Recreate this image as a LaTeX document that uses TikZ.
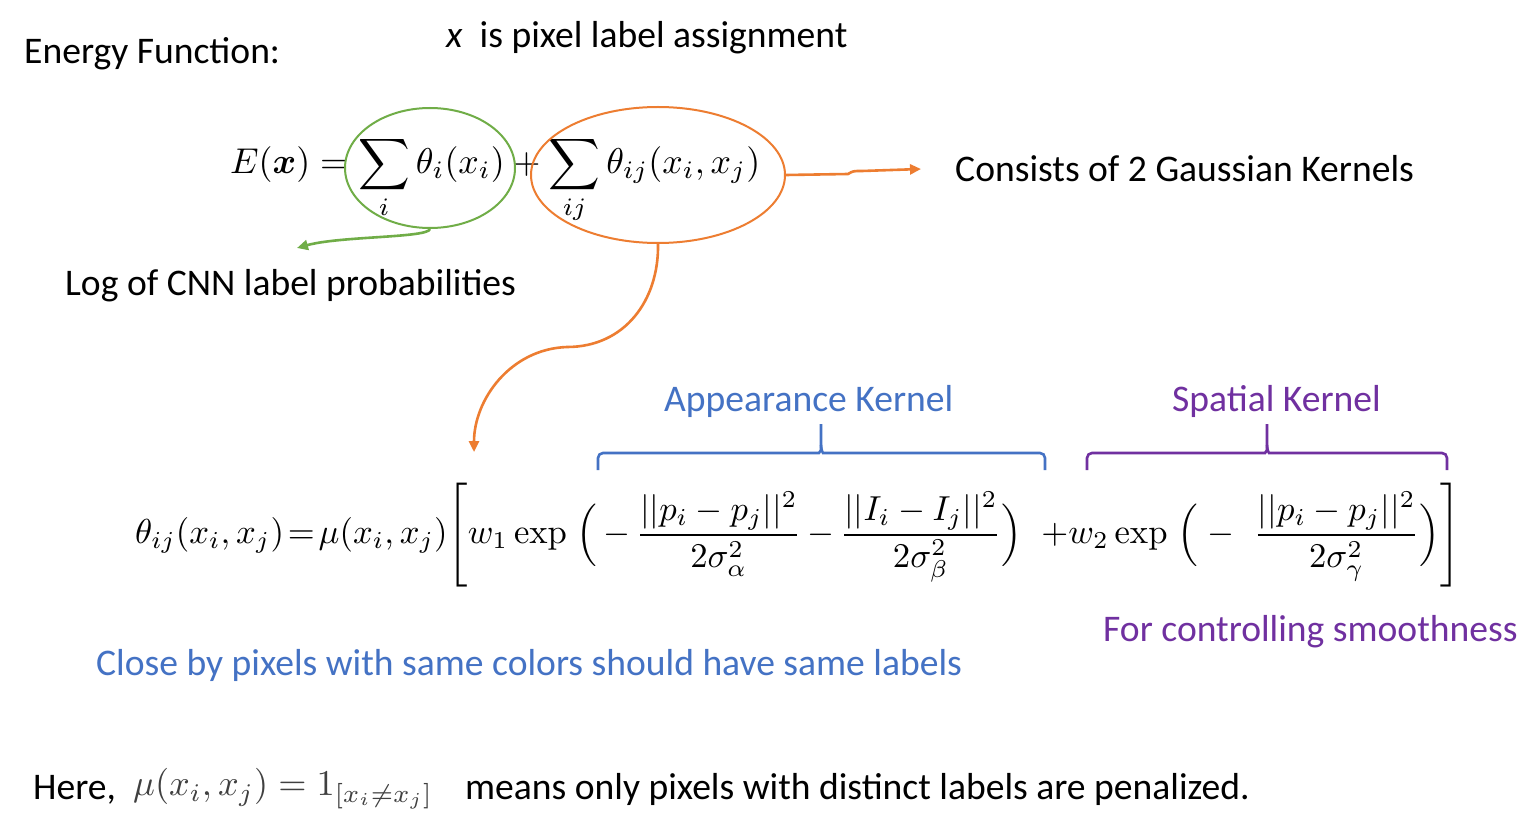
\documentclass[tikz,border=0pt]{standalone}
\usepackage{amsmath}
\usepackage[no-math]{fontspec}
\setmainfont{Carlito}
\usepackage{graphicx}
\usetikzlibrary{shapes.geometric,arrows.meta}
\definecolor{kgreen}{HTML}{70AD47}
\definecolor{korange}{HTML}{ED7D31}
\definecolor{kblue}{HTML}{4472C4}
\definecolor{kpurple}{HTML}{7030A0}
\begin{document}
\begin{tikzpicture}[x=1pt,y=-1pt,
  txt/.style={font=\fontsize{37.6}{44}\selectfont, anchor=base west, inner sep=0pt},
  eqn/.style={anchor=west, inner sep=0pt},
  ring/.style={ellipse, draw, line width=2pt, inner sep=0pt},
  link/.style={line width=2.6pt, -{Triangle[length=11pt,width=10pt]}},
  bracebar/.style={line width=2.6pt, rounded corners=5pt}]
  \useasboundingbox[fill=white] (0,0) rectangle (1538,834);

  % headings
  \node[txt] (title) at (24,64) {Energy Function:};
  \node[txt] (xdef) at (446,48) {\textit{x}\ \ is pixel label assignment};

  % energy function
  \node[eqn] (energy) at (230,180)
    {\resizebox{530pt}{!}{$\displaystyle E(\boldsymbol{x}) = \sum_i \theta_i(x_i) + \sum_{ij}\theta_{ij}(x_i,x_j)$}};
  \node[ring, kgreen, minimum width=170, minimum height=120] (unary) at (430,168) {};
  \node[ring, korange, minimum width=254, minimum height=136] (pair) at (658,175) {};

  \node[txt] (unarytxt) at (65,295) {Log of CNN label probabilities};
  \node[txt] (pairtxt) at (955,182) {Consists of 2 Gaussian Kernels};

  \coordinate (gend) at (297,248);
  \coordinate (oend) at (921,169);
  \coordinate (kend) at (474,452);
  \draw[link, kgreen] (unary.south) .. controls (428,238) and (340,236) .. (gend);
  \draw[link, korange] (pair.east) -- (848,174) .. controls (853,171) .. (862,171) -- (oend);
  \draw[link, korange] (pair.south) .. controls (659,300) and (625,347) .. (567,347)
    .. controls (510,349) and (474,400) .. (kend);

  % kernel labels and braces
  \node[txt, text=kblue] (apptxt) at (664,411) {Appearance Kernel};
  \node[txt, text=kpurple] (spatxt) at (1172,411) {Spatial Kernel};

  \draw[bracebar, kblue] (598,470) -- (598,453) -- (814,453)
    .. controls (819,453) and (821,450) .. (821,445) -- (821,424);
  \draw[bracebar, kblue] (1045,470) -- (1045,453) -- (828,453)
    .. controls (823,453) and (821,450) .. (821,445);
  \draw[bracebar, kpurple] (1087,470) -- (1087,453) -- (1260,453)
    .. controls (1265,453) and (1267,450) .. (1267,445) -- (1267,424);
  \draw[bracebar, kpurple] (1447,470) -- (1447,453) -- (1274,453)
    .. controls (1269,453) and (1267,450) .. (1267,445);

  % pairwise potential
  \node[eqn] (kernel) at (135,535)
    {\resizebox{1325pt}{!}{$\theta_{ij}(x_i,x_j)\!=\!\mu(x_i,x_j)\Biggl[w_1\exp\;\Bigl(\,{-}\,\dfrac{||p_i-p_j||^2}{2\sigma_\alpha^2}\,{-}\,\dfrac{||I_i-I_j||^2}{2\sigma_\beta^2}\Bigr)\;\;{+}w_2\exp\;\Bigl(\;{-}\;\;\dfrac{||p_i-p_j||^2}{2\sigma_\gamma^2}\Bigr)\Biggr]$}};

  \node[txt, text=kpurple] (smooth) at (1103,641) {For controlling smoothness};
  \node[txt, text=kblue] (close) at (96,675) {Close by pixels with same colors should have same labels};

  % label compatibility
  \node[txt] (here) at (33,799) {Here,};
  \node[eqn, text=black!75] (mu) at (133,789)
    {\resizebox{300pt}{!}{$\mu(x_i,x_j)=1_{[x_i\neq x_j]}$}};
  \node[txt] (means) at (465,799) {means only pixels with distinct labels are penalized.};
\end{tikzpicture}
\end{document}
